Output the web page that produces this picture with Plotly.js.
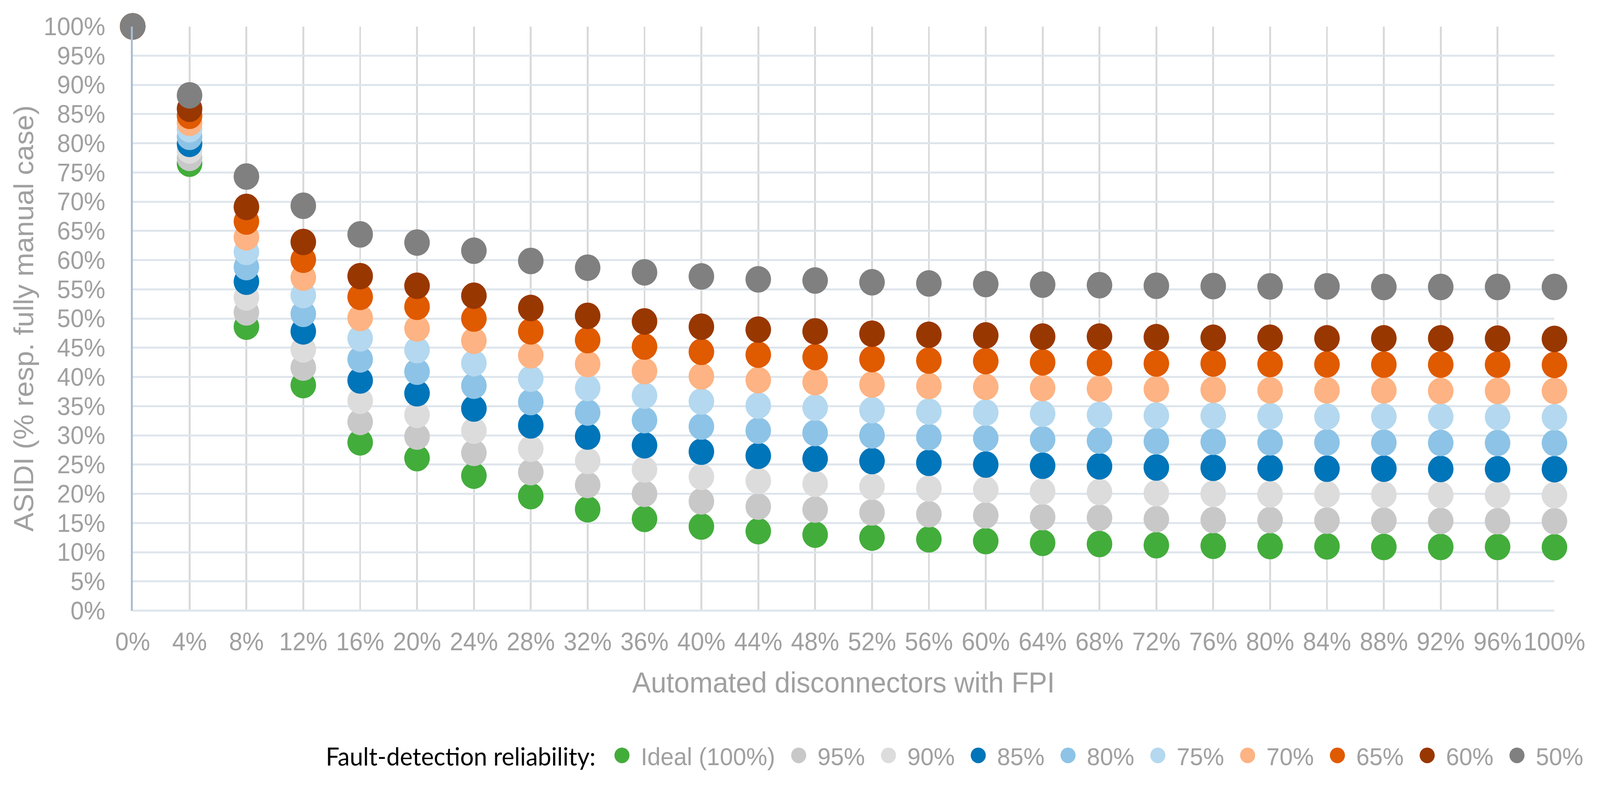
<!DOCTYPE html>
<html>
<head>
<meta charset="utf-8">
<script src="https://cdn.plot.ly/plotly-3.0.1.min.js"></script>
<style>
  html, body { margin: 0; padding: 0; background: #fff; }
  html { overflow: hidden; }
  body { width: 100vw; height: 100vh; position: relative; overflow: hidden; }
  #chart { position: absolute; left: 0; top: 0; width: 1700.4px; height: 807.6px; transform-origin: 0 0; }
</style>
</head>
<body>
<div id="chart"></div>
<script>
// Automated disconnectors with FPI (%)
const xShare = [0, 4, 8, 12, 16, 20, 24, 28, 32, 36, 40, 44, 48, 52, 56, 60, 64, 68, 72, 76, 80, 84, 88, 92, 96, 100];

// ASIDI (% resp. fully manual case) per fault-detection reliability
const ideal100 = [100, 76.5, 48.6, 38.6, 28.8, 26.1, 23.1, 19.6, 17.35, 15.7, 14.4, 13.6, 13.0, 12.5, 12.2, 11.9, 11.6, 11.4, 11.2, 11.1, 11.05, 11.0, 10.9, 10.9, 10.9, 10.85];
const rel95 = [100, 77.5, 51.05, 41.6, 32.3, 29.8, 27.0, 23.7, 21.5, 20.0, 18.7, 17.8, 17.3, 16.8, 16.5, 16.3, 16.0, 15.9, 15.65, 15.5, 15.5, 15.4, 15.4, 15.35, 15.3, 15.3];
const rel90 = [100, 78.75, 53.6, 44.7, 35.9, 33.5, 30.8, 27.7, 25.6, 24.15, 22.9, 22.2, 21.7, 21.2, 20.9, 20.7, 20.4, 20.3, 20.1, 20.0, 19.9, 19.9, 19.85, 19.8, 19.8, 19.75];
const rel85 = [100, 79.9, 56.3, 47.8, 39.4, 37.2, 34.6, 31.7, 29.8, 28.3, 27.2, 26.5, 26.0, 25.6, 25.3, 25.0, 24.8, 24.7, 24.5, 24.45, 24.4, 24.3, 24.3, 24.25, 24.2, 24.2];
const rel80 = [100, 81.1, 58.8, 50.8, 43.0, 40.9, 38.5, 35.7, 33.9, 32.6, 31.5, 30.8, 30.4, 30.0, 29.7, 29.5, 29.3, 29.1, 29.0, 28.9, 28.8, 28.8, 28.75, 28.7, 28.7, 28.7];
const rel75 = [100, 82.4, 61.4, 54.0, 46.6, 44.6, 42.35, 39.7, 38.1, 36.8, 35.8, 35.1, 34.75, 34.3, 34.07, 33.9, 33.7, 33.5, 33.4, 33.35, 33.3, 33.2, 33.2, 33.2, 33.15, 33.1];
const rel70 = [100, 83.5, 63.9, 57.0, 50.1, 48.3, 46.2, 43.7, 42.2, 41.0, 40.1, 39.45, 39.1, 38.7, 38.45, 38.3, 38.1, 38.0, 37.9, 37.8, 37.7, 37.7, 37.7, 37.6, 37.6, 37.6];
const rel65 = [100, 84.7, 66.6, 60.06, 53.7, 52.0, 50.0, 47.8, 46.3, 45.2, 44.3, 43.8, 43.4, 43.05, 42.8, 42.7, 42.5, 42.4, 42.3, 42.3, 42.2, 42.15, 42.1, 42.1, 42.1, 42.05];
const rel60 = [100, 85.9, 69.1, 63.1, 57.25, 55.6, 53.9, 51.8, 50.45, 49.5, 48.6, 48.1, 47.8, 47.4, 47.2, 47.1, 46.9, 46.9, 46.8, 46.7, 46.7, 46.6, 46.6, 46.6, 46.55, 46.5];
const rel50 = [100, 88.2, 74.3, 69.3, 64.4, 63.0, 61.6, 59.85, 58.7, 57.9, 57.2, 56.7, 56.5, 56.2, 56.0, 55.9, 55.8, 55.7, 55.6, 55.55, 55.5, 55.5, 55.4, 55.4, 55.4, 55.4];

const seriesNames = ['Ideal (100%)', '95%', '90%', '85%', '80%', '75%', '70%', '65%', '60%', '50%'];
const seriesValues = [ideal100, rel95, rel90, rel85, rel80, rel75, rel70, rel65, rel60, rel50];
const seriesColors = ['#43ad3b', '#c8c8c8', '#dcdcdc', '#0075b9', '#8dc3e6', '#b4d8ef', '#fdb383', '#e05a00', '#993700', '#808080'];

const legendTitle = 'Fault-detection reliability:';
const xTitle = 'Automated disconnectors with FPI';
const yTitle = 'ASIDI (% resp. fully manual case)';

const S = 2.5; // chart is laid out at 1/S of the 4251x2019 target and scaled up by CSS
const W = 4251 / S, H = 2019 / S;
const textGrey = '#a0a0a0';

// scale the chart to fill the real viewport
(function fit() {
  const vw = document.documentElement.clientWidth || window.innerWidth || 4251;
  const vh = document.documentElement.clientHeight || window.innerHeight || 2019;
  document.getElementById('chart').style.transform = 'scale(' + (vw / W) + ',' + (vh / H) + ')';
})();

const traces = seriesNames.map((name, i) => ({
  type: 'scatter',
  mode: 'markers',
  name: name,
  x: xShare,
  y: seriesValues[i],
  cliponaxis: false,
  marker: { size: 68 / S, color: seriesColors[i], line: { width: 0 } },
  hoverinfo: 'x+y+name'
}));

const layout = {
  width: W,
  height: H,
  margin: { l: 352 / S, r: (4251 - 4152) / S, t: 67 / S, b: (2019 - 1587) / S, pad: 0 },
  paper_bgcolor: '#ffffff',
  plot_bgcolor: '#ffffff',
  font: { family: 'Liberation Sans, Arial, sans-serif', color: textGrey, size: 64 / S },
  showlegend: true,
  legend: {
    orientation: 'h',
    x: 1.024, xanchor: 'right',
    y: -0.248, yanchor: 'middle',
    bgcolor: 'rgba(0,0,0,0)',
    font: { family: 'Liberation Sans, Arial, sans-serif', size: 63 / S, color: textGrey },
    title: { text: legendTitle, side: 'left', font: { family: 'Lato, sans-serif', size: 64 / S, color: '#000000' } },
    tracegroupgap: 0
  },
  xaxis: {
    range: [0, 100],
    tickmode: 'linear', tick0: 0, dtick: 4,
    ticksuffix: '%',
    tickangle: 0,
    ticks: '',
    ticklabelstandoff: 14,
    showgrid: true, gridcolor: '#d9d9d9', gridwidth: 4.5 / S,
    zeroline: false,
    showline: false,
    tickfont: { size: 64 / S, color: textGrey },
    title: { text: xTitle, font: { size: 74 / S, color: textGrey }, standoff: 18 }
  },
  yaxis: {
    range: [0, 100],
    tickmode: 'linear', tick0: 0, dtick: 5,
    ticksuffix: '%',
    ticks: '',
    ticklabelstandoff: 22,
    showgrid: true, gridcolor: '#dee5ec', gridwidth: 4.5 / S,
    zeroline: true, zerolinecolor: '#dee5ec', zerolinewidth: 5 / S,
    showline: true, linecolor: '#abbdd1', linewidth: 5 / S,
    tickfont: { size: 64 / S, color: textGrey },
    title: { text: yTitle, font: { size: 73 / S, color: textGrey }, standoff: 2 }
  }
};

Plotly.newPlot('chart', traces, layout, { displayModeBar: false, responsive: false });
</script>
</body>
</html>
